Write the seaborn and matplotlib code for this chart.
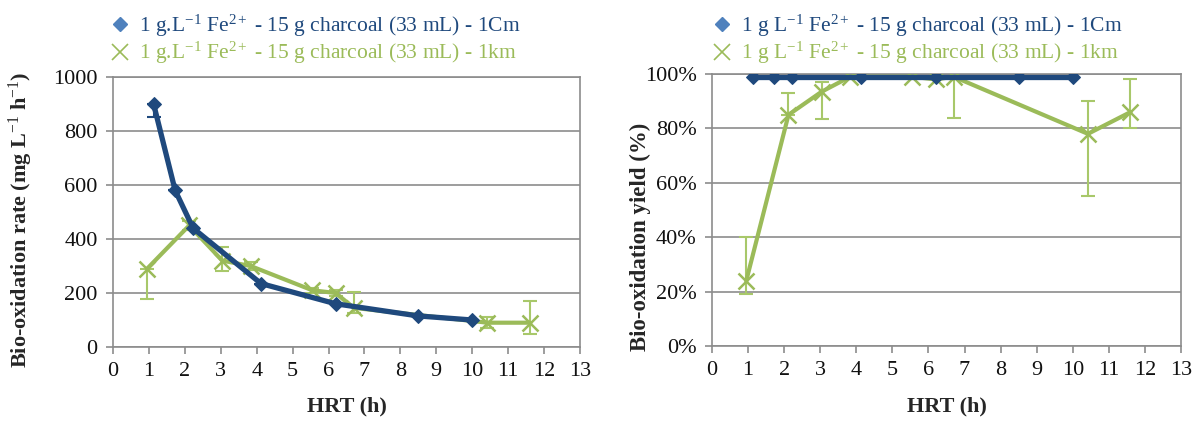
import numpy as np
import pandas as pd
import seaborn as sns
import matplotlib
matplotlib.use("Agg")
import matplotlib.pyplot as plt
from matplotlib.lines import Line2D

# ---------------- data ----------------
hrt_1cm = [1.13, 1.73, 2.23, 4.12, 6.2, 8.5, 10.0]
rate_1cm = [900, 580, 440, 235, 160, 115, 100]
rate_1cm_lo = [50, 0, 0, 0, 0, 0, 0]
rate_1cm_hi = [0, 0, 0, 0, 0, 0, 0]
yield_1cm = [99, 99, 99, 99, 99, 99, 99]

hrt_1km = [0.95, 2.12, 3.04, 3.83, 5.55, 6.2, 6.7, 10.42, 11.6]
rate_1km = [290, 450, 320, 300, 210, 200, 145, 90, 90]
rate_1km_lo = [112, 15, 40, 15, 10, 10, 20, 18, 40]
rate_1km_hi = [0, 15, 50, 15, 10, 10, 60, 20, 82]
yield_1km = [24, 85, 93.5, 99, 99, 98, 99, 78, 86]
yield_1km_lo = [5, 0, 10, 0, 0, 0, 15, 23, 6]
yield_1km_hi = [16, 8, 3.5, 0, 0, 0, 0, 12, 12]

label_1cm_a = r"1 g.L$^{-1}$ Fe$^{2+}$ - 15 g charcoal (33 mL) - 1Cm"
label_1km_a = r"1 g.L$^{-1}$ Fe$^{2+}$ - 15 g charcoal (33 mL) - 1km"
label_1cm_b = r"1 g L$^{-1}$ Fe$^{2+}$ - 15 g charcoal (33 mL) - 1Cm"
label_1km_b = r"1 g L$^{-1}$ Fe$^{2+}$ - 15 g charcoal (33 mL) - 1km"

x_ticks = list(range(0, 14))
rate_ticks = [0, 200, 400, 600, 800, 1000]
yield_ticks = [0, 20, 40, 60, 80, 100]
yield_tick_labels = ["0%", "20%", "40%", "60%", "80%", "100%"]

# ---------------- style ----------------
sns.set_theme(style="white")
plt.rcParams["font.family"] = ["Liberation Serif", "DejaVu Serif"]
plt.rcParams["mathtext.fontset"] = "custom"
plt.rcParams["mathtext.rm"] = "Liberation Serif"
plt.rcParams["mathtext.it"] = "Liberation Serif:italic"
plt.rcParams["mathtext.bf"] = "Liberation Serif:bold"

BLUE = "#1F497D"
BLUE_LIGHT = "#4F81BD"
GREEN = "#9BBB59"
GREEN_ERR = "#A8C86A"
GRID = "#8C8C8C"

df_cm = pd.DataFrame({"HRT": hrt_1cm, "rate": rate_1cm, "yield": yield_1cm})
df_km = pd.DataFrame({"HRT": hrt_1km, "rate": rate_1km, "yield": yield_1km})

fig = plt.figure(figsize=(12.02, 4.23), dpi=100)
ax1 = fig.add_axes([113 / 1202, 76 / 423, 467 / 1202, 270 / 423])
ax2 = fig.add_axes([712 / 1202, 77 / 423, 469 / 1202, 272 / 423])


def draw(ax, col, lo_cm, hi_cm, lo_km, hi_km):
    ax.errorbar(df_km["HRT"], df_km[col], yerr=[lo_km, hi_km], fmt="none",
                ecolor=GREEN_ERR, elinewidth=1.5, capsize=5, capthick=1.5, zorder=2)
    if lo_cm is not None:
        ax.errorbar(df_cm["HRT"], df_cm[col], yerr=[lo_cm, hi_cm], fmt="none",
                    ecolor=BLUE, elinewidth=1.5, capsize=5, capthick=1.5, zorder=2)
    sns.lineplot(data=df_km, x="HRT", y=col, ax=ax, color=GREEN, lw=3,
                 marker="x", markersize=11, markeredgewidth=1.8,
                 markeredgecolor=GREEN, sort=False, zorder=3, legend=False)
    sns.lineplot(data=df_cm, x="HRT", y=col, ax=ax, color=BLUE, lw=3.8,
                 marker="D", markersize=7.5, markeredgecolor=BLUE,
                 sort=False, zorder=4, legend=False)
    ax.set_xlim(0, 13)
    ax.set_xticks(x_ticks)
    ax.set_xticklabels([str(t) for t in x_ticks])
    ax.grid(axis="y", color=GRID, lw=1.2)
    ax.grid(axis="x", visible=False)
    for s in ax.spines.values():
        s.set_color(GRID)
        s.set_linewidth(1.2)
    ax.tick_params(axis="both", which="major", labelsize=16,
                   length=5, width=1.2, direction="out", bottom=True, left=True,
                   colors=GRID, labelcolor="#111111")
    ax.tick_params(axis="x", pad=6)
    ax.tick_params(axis="y", pad=6)
    ax.set_xlabel("HRT (h)", fontsize=16, fontweight="bold")
    ax.xaxis.set_label_coords(0.5, -0.185)
    ax.set_axisbelow(True)


draw(ax1, "rate", rate_1cm_lo, rate_1cm_hi, rate_1km_lo, rate_1km_hi)
ax1.set_ylim(0, 1000)
ax1.set_yticks(rate_ticks)
ax1.set_ylabel(r"Bio-oxidation rate (mg L$^{-1}$ h$^{-1}$)", fontsize=16,
               fontweight="bold")
ax1.yaxis.set_label_coords(-0.167, 0.47)

draw(ax2, "yield", None, None, yield_1km_lo, yield_1km_hi)
ax2.set_ylim(0, 100)
ax2.set_yticks(yield_ticks)
ax2.set_yticklabels(yield_tick_labels)
ax2.set_ylabel("Bio-oxidation yield (%)", fontsize=16.5, fontweight="bold")
ax2.yaxis.set_label_coords(-0.130, 0.40)

handles = [Line2D([], [], ls="none", marker="D", color=BLUE_LIGHT, markersize=7),
           Line2D([], [], ls="none", marker="x", color=GREEN, markersize=11,
                  markeredgewidth=1.2)]

for ax, labels, x0 in [(ax1, [label_1cm_a, label_1km_a], 102 / 1202),
                       (ax2, [label_1cm_b, label_1km_b], 704 / 1202)]:
    leg = fig.legend(handles, labels, loc="upper left", bbox_to_anchor=(x0, 0.99),
                     frameon=False, fontsize=15.5, handlelength=0.9, handletextpad=0.4,
                     labelspacing=0.05, borderaxespad=0)
    for t, c in zip(leg.get_texts(), [BLUE, GREEN]):
        t.set_color(c)

fig.savefig("out.png", dpi=100)
